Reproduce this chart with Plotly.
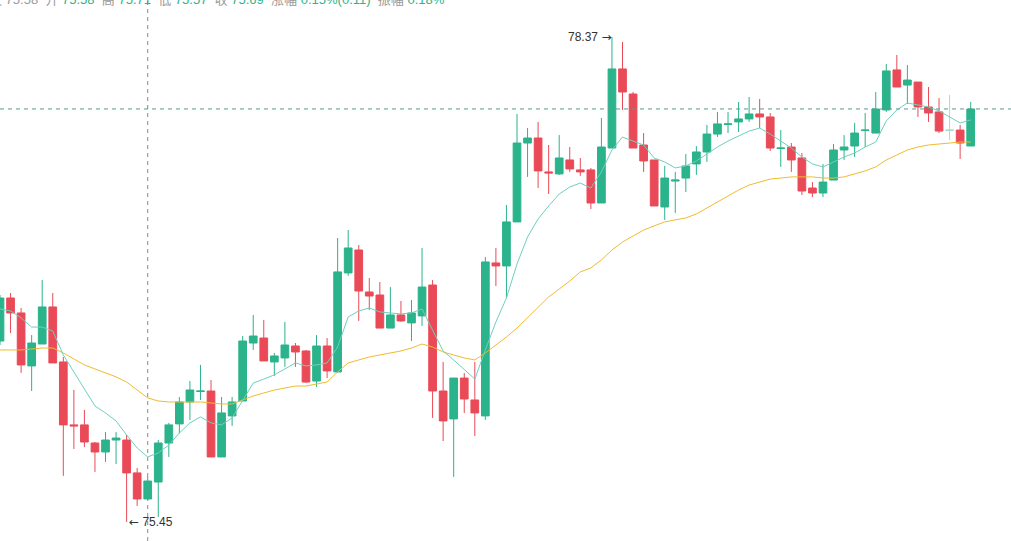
import plotly.graph_objects as go

# ---- data ----
idx = list(range(93))

open_ = [76.540, 76.799, 76.709, 76.390, 76.522, 76.745, 76.414, 76.035, 76.035, 75.926,
         75.872, 75.944, 75.944, 75.746, 75.589, 75.691, 75.926, 76.041, 76.173, 76.236,
         76.239, 75.842, 76.089, 76.179, 76.528, 76.558, 76.414, 76.438, 76.510, 76.480,
         76.299, 76.510, 76.354, 76.950, 77.088, 76.835, 76.817, 76.618, 76.697, 76.649,
         76.691, 76.877, 76.239, 76.071, 76.317, 76.185, 76.089, 77.010, 76.992, 77.257,
         77.732, 77.762, 77.558, 77.546, 77.630, 77.570, 77.570, 77.371, 77.702, 78.178,
         78.027, 77.720, 77.630, 77.347, 77.503, 77.521, 77.606, 77.678, 77.786, 77.844,
         77.859, 77.877, 77.907, 77.889, 77.699, 77.708, 77.642, 77.461, 77.431, 77.509,
         77.690, 77.714, 77.807, 77.792, 77.931, 78.172, 78.081, 78.099, 77.949, 77.919,
         77.807, 77.810, 77.714]

high = [76.817, 76.829, 76.739, 76.576, 76.907, 76.829, 76.444, 76.245, 76.125, 75.932,
        75.992, 75.992, 75.974, 75.776, 75.722, 75.944, 76.047, 76.203, 76.299, 76.396,
        76.305, 76.203, 76.203, 76.570, 76.697, 76.667, 76.468, 76.655, 76.528, 76.486,
        76.576, 76.558, 77.160, 77.208, 77.118, 76.919, 76.895, 76.865, 76.781, 76.787,
        77.100, 76.907, 76.414, 76.317, 76.348, 76.414, 77.046, 77.100, 77.359, 77.907,
        77.822, 77.859, 77.720, 77.780, 77.708, 77.642, 77.582, 77.883, 78.370, 78.340,
        78.039, 77.792, 77.630, 77.594, 77.558, 77.666, 77.714, 77.841, 77.919, 77.919,
        77.979, 78.009, 77.997, 77.913, 77.810, 77.732, 77.672, 77.497, 77.606, 77.726,
        77.780, 77.853, 77.913, 78.039, 78.208, 78.262, 78.202, 78.099, 78.069, 78.003,
        78.021, 77.841, 77.979]

low = [76.516, 76.588, 76.348, 76.239, 76.522, 76.408, 75.728, 75.890, 75.902, 75.752,
       75.812, 75.800, 75.451, 75.547, 75.583, 75.481, 75.842, 75.986, 76.065, 76.185,
       75.842, 75.842, 76.029, 76.179, 76.486, 76.420, 76.330, 76.384, 76.384, 76.287,
       76.263, 76.317, 76.348, 76.932, 76.661, 76.727, 76.618, 76.618, 76.655, 76.540,
       76.631, 76.077, 75.938, 75.722, 76.107, 75.968, 76.065, 76.871, 76.799, 77.257,
       77.528, 77.461, 77.425, 77.540, 77.558, 77.534, 77.335, 77.371, 77.702, 77.931,
       77.702, 77.558, 77.353, 77.269, 77.311, 77.437, 77.540, 77.618, 77.768, 77.792,
       77.798, 77.859, 77.822, 77.684, 77.588, 77.558, 77.419, 77.407, 77.407, 77.509,
       77.630, 77.648, 77.708, 77.792, 77.919, 78.069, 77.967, 77.889, 77.859, 77.792,
       77.750, 77.636, 77.714]

close = [76.799, 76.709, 76.396, 76.528, 76.745, 76.408, 76.035, 76.029, 75.932, 75.872,
         75.944, 75.956, 75.746, 75.589, 75.697, 75.926, 76.035, 76.173, 76.245, 76.239,
         75.842, 76.107, 76.173, 76.540, 76.570, 76.420, 76.450, 76.516, 76.474, 76.293,
         76.510, 76.360, 76.956, 77.100, 76.841, 76.811, 76.618, 76.697, 76.661, 76.709,
         76.865, 76.239, 76.059, 76.317, 76.191, 76.107, 77.016, 76.992, 77.257, 77.732,
         77.762, 77.564, 77.552, 77.642, 77.576, 77.558, 77.371, 77.708, 78.178, 78.039,
         77.702, 77.624, 77.353, 77.521, 77.509, 77.594, 77.678, 77.786, 77.847, 77.847,
         77.877, 77.907, 77.889, 77.702, 77.702, 77.630, 77.443, 77.431, 77.497, 77.690,
         77.708, 77.792, 77.810, 77.937, 78.166, 78.069, 78.111, 77.949, 77.913, 77.804,
         77.810, 77.732, 77.937]

ma5 = [76.733, 76.721, 76.679, 76.624, 76.624, 76.600, 76.456, 76.354, 76.245, 76.149,
       76.107, 76.059, 75.974, 75.896, 75.842, 75.866, 75.914, 75.986, 76.047, 76.083,
       76.047, 76.035, 76.077, 76.179, 76.287, 76.311, 76.336, 76.372, 76.408, 76.390,
       76.396, 76.408, 76.504, 76.685, 76.721, 76.739, 76.715, 76.709, 76.703, 76.709,
       76.733, 76.606, 76.480, 76.426, 76.366, 76.311, 76.486, 76.655, 76.799, 77.004,
       77.166, 77.275, 77.353, 77.425, 77.467, 77.491, 77.461, 77.558, 77.690, 77.768,
       77.744, 77.720, 77.642, 77.618, 77.582, 77.594, 77.624, 77.666, 77.708, 77.744,
       77.774, 77.804, 77.822, 77.786, 77.744, 77.702, 77.648, 77.606, 77.588, 77.618,
       77.648, 77.672, 77.708, 77.738, 77.865, 77.931, 77.973, 77.961, 77.949, 77.925,
       77.889, 77.853, 77.871]

ma_long = [76.486, 76.486, 76.486, 76.492, 76.498, 76.498, 76.468, 76.432, 76.396, 76.372,
           76.348, 76.324, 76.293, 76.245, 76.197, 76.179, 76.173, 76.173, 76.173, 76.173,
           76.167, 76.161, 76.161, 76.185, 76.209, 76.227, 76.245, 76.257, 76.269, 76.269,
           76.281, 76.293, 76.354, 76.408, 76.426, 76.444, 76.456, 76.468, 76.480, 76.498,
           76.522, 76.504, 76.474, 76.456, 76.438, 76.426, 76.468, 76.516, 76.564, 76.618,
           76.679, 76.745, 76.805, 76.853, 76.901, 76.956, 76.980, 77.028, 77.088, 77.136,
           77.172, 77.208, 77.233, 77.257, 77.269, 77.281, 77.305, 77.341, 77.377, 77.413,
           77.449, 77.479, 77.497, 77.515, 77.521, 77.528, 77.528, 77.528, 77.521, 77.521,
           77.528, 77.546, 77.564, 77.588, 77.630, 77.660, 77.690, 77.708, 77.720, 77.726,
           77.732, 77.738, 77.738]

high_idx = 58      # highest candle
low_idx = 12       # lowest candle
cross_idx = 14     # crosshair candle
faded_idx = 90     # highlighted (faded) candle

info_prev = "75.58"
info_open = "75.58"
info_high = "75.71"
info_low = "75.57"
info_close = "75.69"
info_chg = "0.15%(0.11)"
info_amp = "0.18%"

# ---- styling ----
GREEN = "#2bb38b"
RED = "#ea4a57"
MA5_COLOR = "#6fcfbf"
MAL_COLOR = "#f0bb30"
FONT = "Liberation Sans, Arial, Noto Sans CJK SC, sans-serif"

fig = go.Figure()

main_i = [i for i in idx if i != faded_idx]
fig.add_trace(go.Candlestick(
    x=main_i,
    open=[open_[i] for i in main_i], high=[high[i] for i in main_i],
    low=[low[i] for i in main_i], close=[close[i] for i in main_i],
    increasing=dict(line=dict(color=GREEN, width=1), fillcolor=GREEN),
    decreasing=dict(line=dict(color=RED, width=1), fillcolor=RED),
    whiskerwidth=0, hoverinfo="skip", showlegend=False,
))
fig.add_trace(go.Candlestick(
    x=[faded_idx],
    open=[open_[faded_idx]], high=[high[faded_idx]],
    low=[low[faded_idx]], close=[close[faded_idx]],
    increasing=dict(line=dict(color="#a6dccb", width=1), fillcolor="#a6dccb"),
    decreasing=dict(line=dict(color="#a6dccb", width=1), fillcolor="#a6dccb"),
    whiskerwidth=0, hoverinfo="skip", showlegend=False,
))

fig.add_trace(go.Scatter(x=idx, y=ma_long, mode="lines",
                         line=dict(color=MAL_COLOR, width=1), hoverinfo="skip"))
fig.add_trace(go.Scatter(x=idx, y=ma5, mode="lines",
                         line=dict(color=MA5_COLOR, width=1), hoverinfo="skip"))

# crosshair lines
fig.add_shape(type="line", xref="x", yref="paper", x0=cross_idx, x1=cross_idx, y0=0, y1=1,
              line=dict(color="#8a8a8a", width=1, dash="4px,4px"))
fig.add_shape(type="line", xref="paper", yref="y", x0=0, x1=1, y0=close[-1], y1=close[-1],
              line=dict(color="#5e9a90", width=1, dash="4px,4px"))

# extreme labels
ARW = "font-family:DejaVu Sans"
fig.add_annotation(x=high_idx, y=high[high_idx], xref="x", yref="y",
                   text=f"{high[high_idx]:.2f} <span style='{ARW}'>→</span>", showarrow=False,
                   xanchor="right", yanchor="middle", xshift=1,
                   font=dict(family=FONT, size=12, color="#333333"))
fig.add_annotation(x=low_idx, y=low[low_idx], xref="x", yref="y",
                   text=f"<span style='{ARW}'>←</span> {low[low_idx]:.2f}", showarrow=False,
                   xanchor="left", yanchor="middle", xshift=0,
                   font=dict(family=FONT, size=12, color="#333333"))

# top info line (partially cut off at the top edge, as in the reference)
G = "#9a9a9a"
V = GREEN
sp = "&nbsp;&nbsp;"
info = (f"<span style='color:{G}'>收 {info_prev}</span>{sp}"
        f"<span style='color:{G}'>开</span> <span style='color:{V}'>{info_open}</span>{sp}"
        f"<span style='color:{G}'>高</span> <span style='color:{V}'>{info_high}</span>{sp}"
        f"<span style='color:{G}'>低</span> <span style='color:{V}'>{info_low}</span>{sp}"
        f"<span style='color:{G}'>收</span> <span style='color:{V}'>{info_close}</span>{sp}"
        f"<span style='color:{G}'>涨幅</span> <span style='color:{V}'>{info_chg}</span>{sp}"
        f"<span style='color:{G}'>振幅</span> <span style='color:{V}'>{info_amp}</span>")
fig.add_annotation(x=0, y=1, xref="paper", yref="paper", text=info, showarrow=False,
                   xanchor="left", yanchor="top", xshift=-13, yshift=10,
                   font=dict(family=FONT, size=13, color=G))

fig.update_layout(
    width=1011, height=541,
    margin=dict(l=0, r=0, t=0, b=0),
    paper_bgcolor="white", plot_bgcolor="white",
    showlegend=False,
    boxgap=0.27, boxgroupgap=0,
    xaxis=dict(range=[0, 95.82], visible=False, showgrid=False, zeroline=False,
               rangeslider=dict(visible=False)),
    yaxis=dict(range=[75.336, 78.593], visible=False, showgrid=False, zeroline=False),
    hovermode=False,
)

fig.write_html("out.html")
